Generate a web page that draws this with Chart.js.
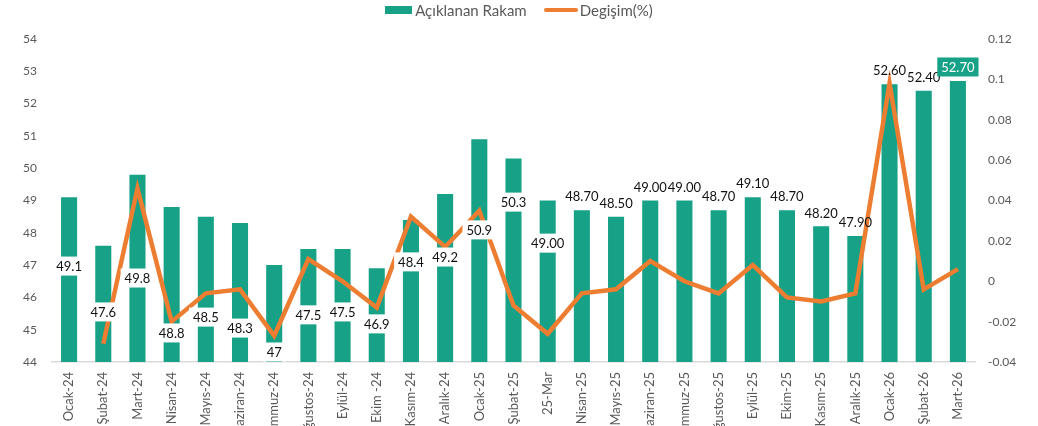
<!DOCTYPE html>
<html lang="tr">
<head>
    <meta charset="UTF-8">
    <title>Açıklanan Rakam ve Değişim</title>
    <script src="https://cdn.jsdelivr.net/npm/chart.js@4.4.0/dist/chart.umd.min.js"></script>
    <style>
        html, body { margin: 0; padding: 0; background: #fff; overflow: hidden; }
        #wrap { position: relative; width: 1038px; height: 426px; }
        #legend {
            position: absolute; top: 0; left: 0; width: 1038px; height: 20px;
            display: flex; justify-content: center; align-items: center;
            font: 15px Lato, "Open Sans", sans-serif; color: #595959;
        }
        .item { display: flex; align-items: center; }
        .item + .item { margin-left: 17px; }
        .swatch { width: 27px; height: 8px; background: #17a187; margin-right: 3px; }
        .stroke { width: 34px; height: 4px; border-radius: 2px; background: #ed7d31; margin-right: 2px; }
    </style>
</head>
<body>
    <div id="wrap">
        <div id="legend">
            <div class="item"><span class="swatch"></span>Açıklanan Rakam</div>
            <div class="item"><span class="stroke"></span>Degişim(%)</div>
        </div>
        <canvas id="chart"></canvas>
    </div>

    <script>
        // categories (x axis)
        const months = ['Ocak-24', 'Şubat-24', 'Mart-24', 'Nisan-24', 'Mayıs-24', 'Haziran-24', 'Temmuz-24',
            'Ağustos-24', 'Eylül-24', 'Ekim -24', 'Kasım-24', 'Aralık-24', 'Ocak-25', 'Şubat-25', '25-Mar',
            'Nisan-25', 'Mayıs-25', 'Haziran-25', 'Temmuz-25', 'Ağustos-25', 'Eylül-25', 'Ekim-25', 'Kasım-25',
            'Aralık-25', 'Ocak-26', 'Şubat-26', 'Mart-26'];

        // bars - left axis
        const announced = [49.1, 47.6, 49.8, 48.8, 48.5, 48.3, 47.0, 47.5, 47.5, 46.9, 48.4, 49.2, 50.9, 50.3,
            49.0, 48.7, 48.5, 49.0, 49.0, 48.7, 49.1, 48.7, 48.2, 47.9, 52.6, 52.4, 52.7];

        // line - right axis (first month has no change)
        const change = [null, -0.031, 0.046, -0.020, -0.006, -0.004, -0.027, 0.011, 0.000, -0.013, 0.032, 0.017,
            0.035, -0.012, -0.026, -0.006, -0.004, 0.010, 0.000, -0.006, 0.008, -0.008, -0.010, -0.006,
            0.098, -0.004, 0.006];

        // label texts as printed on the chart
        const labelText = ['49.1', '47.6', '49.8', '48.8', '48.5', '48.3', '47', '47.5', '47.5', '46.9', '48.4',
            '49.2', '50.9', '50.3', '49.00', '48.70', '48.50', '49.00', '49.00', '48.70', '49.10', '48.70',
            '48.20', '47.90', '52.60', '52.40', '52.70'];

        // where the boxed labels of the first months sit (left axis units); the rest sit above the bars
        const labelAnchor = [46.97, 45.55, 46.6, 44.9, 45.39, 45.05, 44.31, 45.46, 45.55, 45.18, 47.1, 47.25,
            48.09, 48.95, 47.68];

        const green = '#17a187';
        const orange = '#ed7d31';
        const grey = '#595959';
        const font = 'Lato, "Open Sans", sans-serif';

        const valueLabels = {
            id: 'valueLabels',
            afterDatasetsDraw(chart) {
                const ctx = chart.ctx;
                const yScale = chart.scales.y;
                const bars = chart.getDatasetMeta(1).data;
                ctx.save();
                ctx.font = '13px ' + font;
                ctx.textAlign = 'center';
                ctx.textBaseline = 'middle';
                bars.forEach((bar, i) => {
                    const text = labelText[i];
                    const boxed = i < labelAnchor.length;
                    const last = i === bars.length - 1;
                    const cy = boxed ? yScale.getPixelForValue(labelAnchor[i]) : bar.y - 14;
                    const w = ctx.measureText(text).width + 8;
                    const h = 19;
                    if (boxed || last) {
                        ctx.fillStyle = last ? green : '#ffffff';
                        ctx.fillRect(bar.x - w / 2, cy - h / 2, w, h);
                    }
                    ctx.fillStyle = last ? '#ffffff' : '#111111';
                    ctx.fillText(text, bar.x, cy + 1);
                });
                ctx.restore();
            }
        };

        new Chart(document.getElementById('chart'), {
            data: {
                labels: months,
                datasets: [
                    {
                        type: 'line',
                        label: 'Degişim(%)',
                        data: change,
                        yAxisID: 'y1',
                        borderColor: orange,
                        backgroundColor: orange,
                        borderWidth: 4.5,
                        pointRadius: 0,
                        tension: 0,
                        order: 0
                    },
                    {
                        type: 'bar',
                        label: 'Açıklanan Rakam',
                        data: announced,
                        yAxisID: 'y',
                        backgroundColor: green,
                        borderWidth: 0,
                        barPercentage: 0.47,
                        categoryPercentage: 1,
                        order: 1
                    }
                ]
            },
            options: {
                responsive: true,
                maintainAspectRatio: false,
                animation: false,
                layout: { padding: { top: 39, left: 0, right: 0, bottom: 0 } },
                plugins: {
                    legend: { display: false },
                    tooltip: { enabled: false }
                },
                scales: {
                    x: {
                        grid: { display: false },
                        border: { display: true, color: '#d9d9d9', width: 1.5 },
                        ticks: {
                            color: grey,
                            font: { family: font, size: 13 },
                            minRotation: 90,
                            maxRotation: 90,
                            autoSkip: false,
                            padding: 2
                        },
                        afterFit: scale => { scale.height = 64; }
                    },
                    y: {
                        position: 'left',
                        min: 44,
                        max: 54,
                        grid: { display: false },
                        border: { display: false },
                        ticks: {
                            stepSize: 1,
                            color: grey,
                            font: { family: font, size: 12 },
                            padding: 7
                        },
                        afterFit: scale => { scale.width = 52; }
                    },
                    y1: {
                        position: 'right',
                        min: -0.04,
                        max: 0.12,
                        grid: { display: false },
                        border: { display: false },
                        ticks: {
                            stepSize: 0.02,
                            color: grey,
                            font: { family: font, size: 12 },
                            padding: 5,
                            callback: v => String(parseFloat(v.toFixed(2)))
                        },
                        afterFit: scale => { scale.width = 63; }
                    }
                }
            },
            plugins: [valueLabels]
        });
    </script>
</body>
</html>
